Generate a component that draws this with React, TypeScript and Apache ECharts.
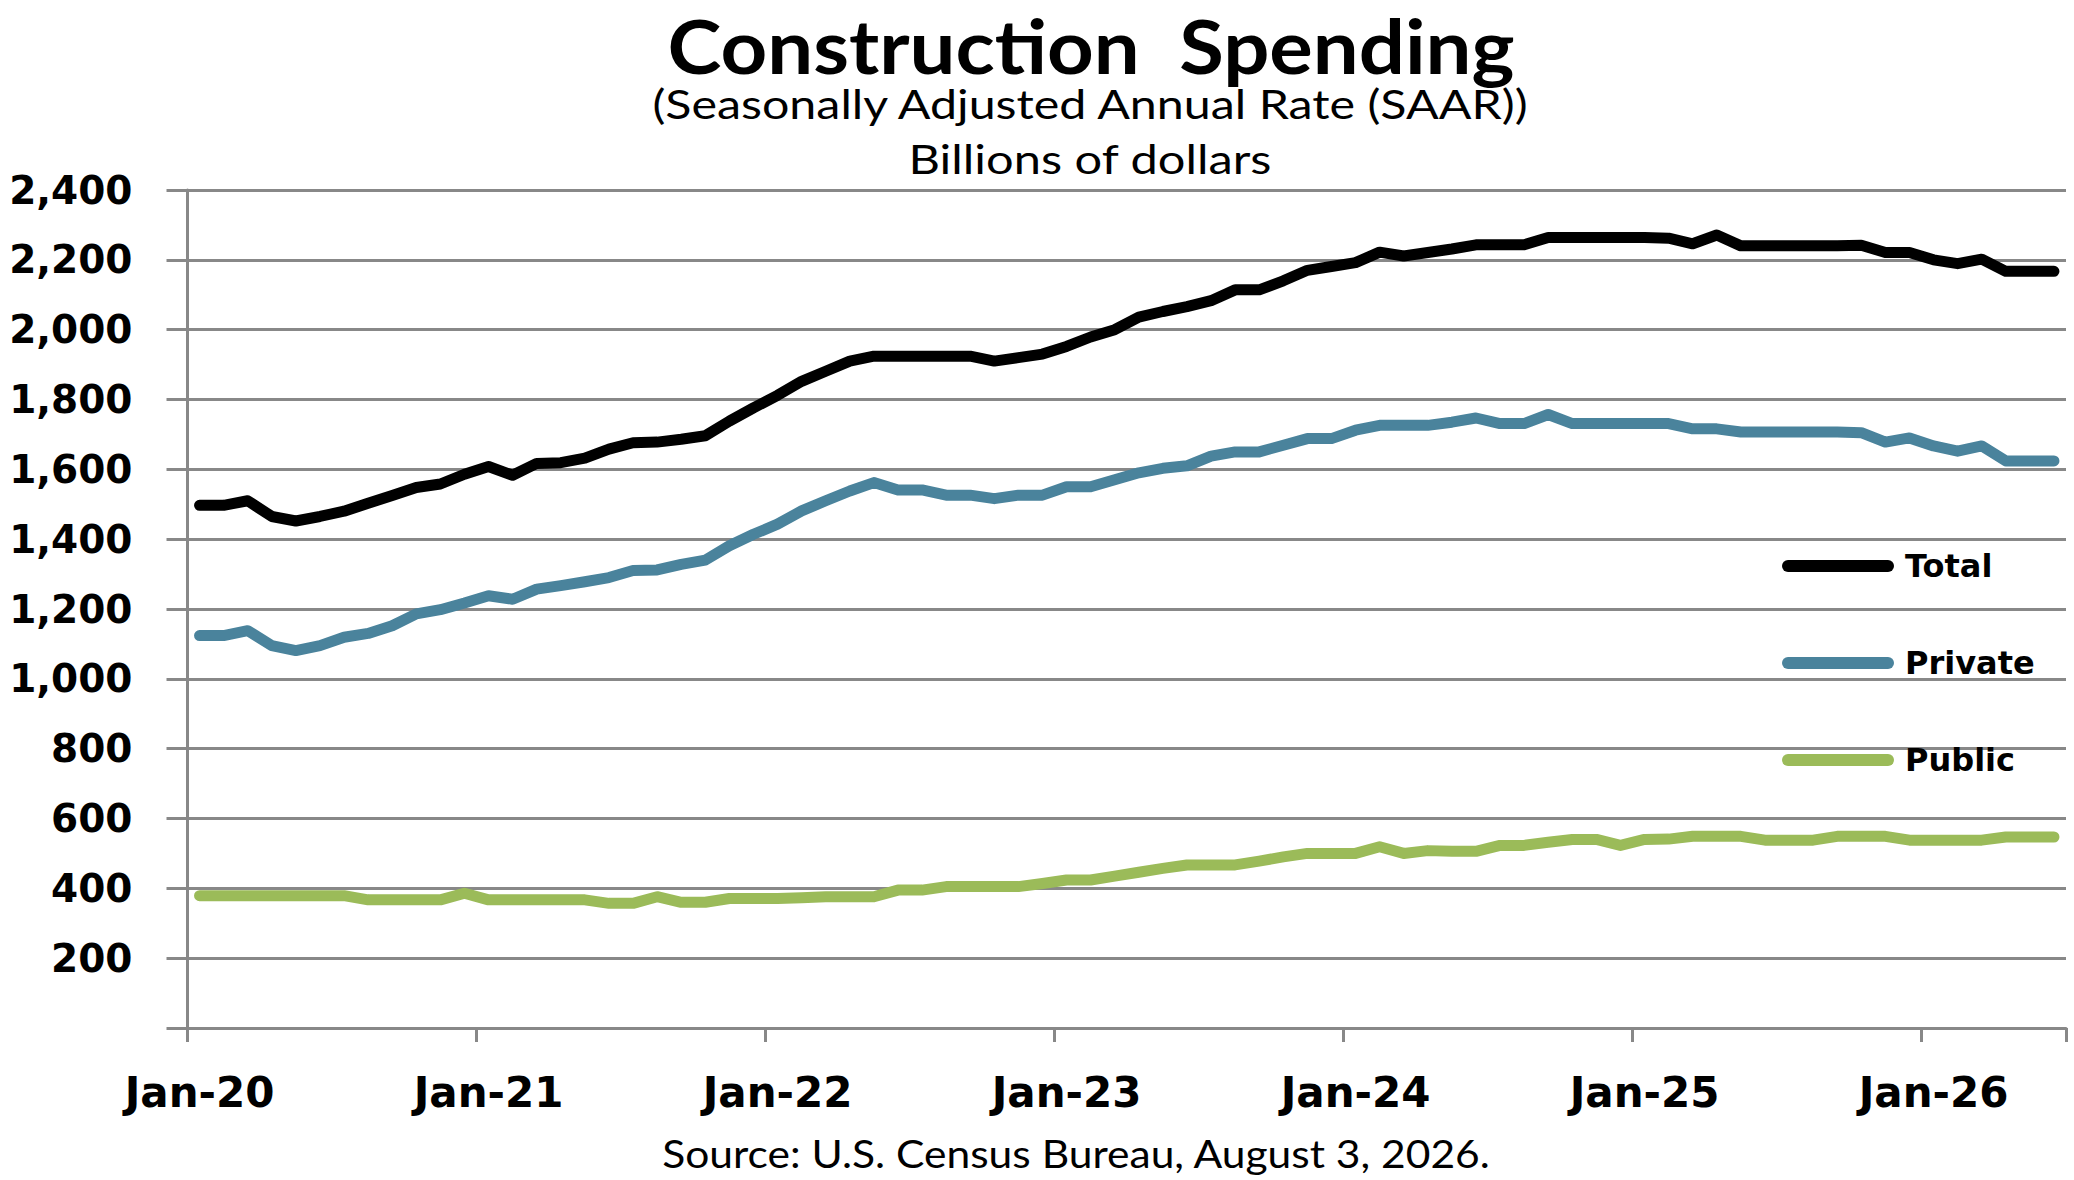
import React, { useEffect, useRef } from "react";
import * as echarts from "echarts";

const MONTHS = ["Jan", "Feb", "Mar", "Apr", "May", "Jun", "Jul", "Aug", "Sep", "Oct", "Nov", "Dec"];
const YEARS = ["20", "21", "22", "23", "24", "25", "26"];
const N_MONTHS = 78; // Jan-20 .. Jun-26

const TOTAL = [
  1497, 1497, 1510, 1465, 1452, 1465, 1480, 1503, 1525, 1548, 1558, 1586,
  1608, 1583, 1617, 1619, 1632, 1658, 1676, 1678, 1686, 1696, 1738, 1776,
  1812, 1852, 1881, 1910, 1924, 1924, 1924, 1924, 1924, 1910, 1920, 1930,
  1952, 1979, 2000, 2036, 2052, 2066, 2083, 2114, 2114, 2140, 2170, 2181,
  2192, 2222, 2211, 2221, 2231, 2243, 2243, 2243, 2264, 2264, 2264, 2264,
  2264, 2262, 2246, 2271, 2240, 2240, 2240, 2240, 2240, 2242, 2221, 2221,
  2200, 2189, 2202, 2167, 2167, 2167,
];

const PRIVATE = [
  1124, 1124, 1138, 1095, 1081, 1095, 1119, 1130, 1152, 1186, 1198, 1217,
  1238, 1228, 1257, 1267, 1278, 1290, 1310, 1312, 1328, 1340, 1381, 1414,
  1443, 1481, 1510, 1538, 1562, 1541, 1541, 1526, 1526, 1516, 1526, 1526,
  1550, 1550, 1570, 1590, 1603, 1610, 1638, 1650, 1650, 1669, 1688, 1688,
  1712, 1726, 1726, 1726, 1735, 1747, 1731, 1731, 1757, 1731, 1731, 1731,
  1731, 1731, 1716, 1716, 1707, 1707, 1707, 1707, 1707, 1705, 1678, 1690,
  1667, 1652, 1667, 1624, 1624, 1624,
];

const PUBLIC = [
  379, 379, 379, 379, 379, 379, 379, 367, 367, 367, 367, 386,
  367, 367, 367, 367, 367, 357, 357, 376, 360, 360, 371, 371,
  371, 373, 376, 376, 376, 395, 395, 405, 405, 405, 405, 414,
  424, 424, 435, 446, 457, 467, 467, 467, 478, 490, 500, 500,
  500, 519, 500, 508, 506, 506, 523, 523, 532, 540, 540, 523,
  540, 541, 549, 549, 549, 538, 538, 538, 549, 549, 549, 538,
  538, 538, 538, 547, 547, 547,
];

const SERIES_NAMES = ["Total", "Private", "Public"];
const SERIES_COLORS = ["#000000", "#4a839c", "#9bbb59"];

const TITLE = "Construction  Spending";
const SUBTITLE = "(Seasonally Adjusted Annual Rate (SAAR))";
const UNITS = "Billions of dollars";
const SOURCE = "Source: U.S. Census Bureau, August 3, 2026.";

const Y_MIN = 0;
const Y_MAX = 2400;
const Y_STEP = 200;

function buildCategories(): string[] {
  const out: string[] = [];
  for (let i = 0; i < N_MONTHS; i++) {
    out.push(MONTHS[i % 12] + "-" + YEARS[Math.floor(i / 12)]);
  }
  return out;
}

const GRAY = "#888888";
const LABEL_FONT = "DejaVu Sans";
const HEAD_FONT = "Lato";

export default function App() {
  const ref = useRef<HTMLDivElement>(null);

  useEffect(() => {
    if (!ref.current) return;
    const chart = echarts.init(ref.current, undefined, { renderer: "svg" });
    const categories = buildCategories();
    const values = [TOTAL, PRIVATE, PUBLIC];

    const headText = (
      text: string,
      x: number,
      y: number,
      size: number,
      weight: string,
      scaleX: number,
      lineHeight: number
    ) => ({
      type: "text",
      x,
      y,
      scaleX,
      scaleY: 1,
      silent: true,
      style: {
        text,
        fill: "#000000",
        fontSize: size,
        fontWeight: weight,
        fontFamily: HEAD_FONT,
        lineHeight,
        textAlign: "center",
        textVerticalAlign: "middle",
        align: "center",
        verticalAlign: "middle",
      },
    });

    chart.setOption({
      animation: false,
      backgroundColor: "#ffffff",
      grid: { left: 187.5, right: 8, top: 190, bottom: 152, containLabel: false },
      graphic: [
        headText(TITLE, 1091, 45, 74, "bold", 1.1, 66),
        headText(SUBTITLE, 1090, 103, 40, "normal", 1.21, 44),
        headText(UNITS, 1090, 159, 40, "normal", 1.22, 44),
        headText(SOURCE, 1076, 1153, 38, "normal", 1.12, 42),
      ],
      legend: {
        data: SERIES_NAMES,
        orient: "vertical",
        left: 1782,
        top: 548,
        padding: 0,
        itemWidth: 112,
        itemHeight: 12,
        itemGap: 61,
        icon: "path://M6,0L106,0A6,6,0,0,1,106,12L6,12A6,6,0,0,1,6,0Z",
        itemStyle: { borderWidth: 0 },
        textStyle: {
          fontFamily: LABEL_FONT,
          fontWeight: "bold",
          fontSize: 32,
          color: "#000000",
          lineHeight: 36,
          padding: [0, 0, 0, 6],
        },
      },
      xAxis: {
        type: "category",
        data: categories,
        boundaryGap: true,
        axisLine: { show: true, lineStyle: { color: GRAY, width: 3 } },
        axisTick: {
          show: true,
          interval: 11,
          length: 14,
          alignWithLabel: false,
          lineStyle: { color: GRAY, width: 3 },
        },
        axisLabel: {
          interval: 11,
          margin: 43,
          fontFamily: LABEL_FONT,
          fontWeight: "bold",
          fontSize: 42,
          lineHeight: 42,
          color: "#000000",
        },
        splitLine: { show: false },
      },
      yAxis: {
        type: "value",
        min: Y_MIN,
        max: Y_MAX,
        interval: Y_STEP,
        axisLine: { show: true, lineStyle: { color: GRAY, width: 3 } },
        axisTick: { show: true, length: 21, lineStyle: { color: GRAY, width: 3 } },
        axisLabel: {
          margin: 55,
          fontFamily: LABEL_FONT,
          fontWeight: "bold",
          fontSize: 39,
          color: "#000000",
          formatter: (v: number) => (v === 0 ? "" : v.toLocaleString("en-US")),
        },
        splitLine: { show: true, lineStyle: { color: GRAY, width: 3 } },
      },
      series: SERIES_NAMES.map((name, k) => ({
        name,
        type: "line",
        data: values[k],
        symbol: "none",
        showSymbol: false,
        smooth: false,
        color: SERIES_COLORS[k],
        itemStyle: { color: SERIES_COLORS[k] },
        lineStyle: { color: SERIES_COLORS[k], width: 11, cap: "round", join: "round" },
        z: 10 - k,
      })),
    });

    return () => chart.dispose();
  }, []);

  return (
    <div
      ref={ref}
      style={{ position: "fixed", left: 0, top: 0, width: 2074, height: 1180, background: "#ffffff" }}
    />
  );
}
